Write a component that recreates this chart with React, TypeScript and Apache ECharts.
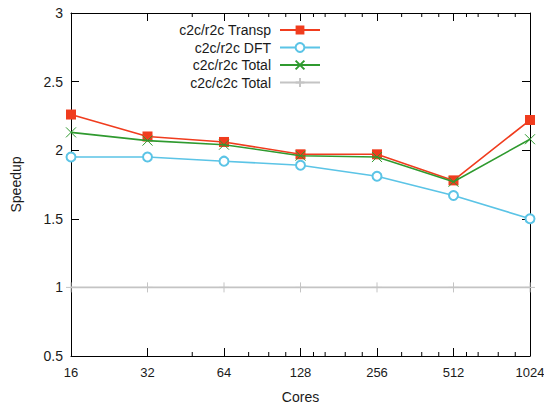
import React, { useEffect, useRef } from "react";
import * as echarts from "echarts";

const cores = [16, 32, 64, 128, 256, 512, 1024];
const transp = [2.26, 2.1, 2.06, 1.97, 1.97, 1.78, 2.22];
const dft = [1.95, 1.95, 1.92, 1.89, 1.81, 1.67, 1.5];
const r2cTotal = [2.13, 2.07, 2.04, 1.96, 1.95, 1.77, 2.08];
const c2cTotal = [1, 1, 1, 1, 1, 1, 1];
const minorTicks = [48, 80, 96, 112, 144, 160, 192, 224, 320, 384, 448, 576, 640, 768, 896];
const seriesNames = ["c2c/r2c Transp", "c2c/r2c DFT", "c2c/r2c Total", "c2c/c2c Total"];

const FONT = "'Liberation Sans', Arial, sans-serif";
const TXT = "#1a1a1a";
const FS = 14;

export default function App() {
  const ref = useRef<HTMLDivElement>(null);
  useEffect(() => {
    if (!ref.current) return;
    document.body.style.margin = "0";
    const chart = echarts.init(ref.current, null, { renderer: "svg" });
    const pairs = (ys: number[]) => cores.map((c, i) => [c, ys[i]]);
    const axisLine = { show: true, onZero: false, lineStyle: { color: "#000", width: 1 } };
    const xCommon = {
      type: "log" as const,
      logBase: 2,
      min: 16,
      max: 1024,
      interval: 1,
      axisLine,
      axisTick: { show: true, inside: true, length: 8, lineStyle: { color: "#000" } },
      splitLine: { show: false },
    };
    const yCommon = {
      type: "value" as const,
      min: 0.5,
      max: 3,
      interval: 0.5,
      axisLine,
      axisTick: { show: true, inside: true, length: 8, lineStyle: { color: "#000" } },
      splitLine: { show: false },
    };
    const option: any = {
      animation: false,
      backgroundColor: "#fff",
      textStyle: { fontFamily: FONT },
      grid: {
        left: 71,
        right: 14,
        top: 13,
        bottom: 49,
        containLabel: false,
        outerBoundsMode: "none",
      },
      legend: {
        data: seriesNames,
        orient: "vertical",
        align: "right",
        right: 223,
        top: 23,
        padding: 0,
        itemWidth: 40,
        itemHeight: 11,
        itemGap: 3.5,
        textStyle: {
          fontSize: FS,
          color: TXT,
          fontFamily: FONT,
          lineHeight: 13,
          padding: [0, 4, 0, 0],
        },
        selectedMode: false,
      },
      xAxis: [
        {
          ...xCommon,
          position: "bottom",
          name: "Cores",
          nameLocation: "middle",
          nameGap: 34,
          nameTextStyle: { fontSize: FS, color: TXT, fontFamily: FONT },
          axisLabel: {
            show: true,
            margin: 10,
            fontSize: 13,
            color: TXT,
            fontFamily: FONT,
            formatter: (v: number) => String(Math.round(v)),
          },
        },
        { ...xCommon, position: "top", axisLabel: { show: false } },
      ],
      yAxis: [
        {
          ...yCommon,
          position: "left",
          name: "Speedup",
          nameLocation: "middle",
          nameGap: 48,
          nameTextStyle: { fontSize: FS, color: TXT, fontFamily: FONT },
          axisLabel: { show: true, margin: 8, fontSize: FS, color: TXT, fontFamily: FONT },
        },
        { ...yCommon, position: "right", axisLabel: { show: false } },
      ],
      series: [
        {
          name: seriesNames[0],
          type: "line",
          data: pairs(transp),
          symbol: "rect",
          symbolSize: 10,
          lineStyle: { color: "#f03c1e", width: 1.6 },
          itemStyle: { color: "#f03c1e" },
          z: 3,
        },
        {
          name: seriesNames[1],
          type: "line",
          data: pairs(dft),
          symbol: "emptyCircle",
          symbolSize: 9,
          lineStyle: { color: "#5bc4e6", width: 1.6 },
          itemStyle: { color: "#5bc4e6", borderColor: "#5bc4e6", borderWidth: 1 },
          z: 4,
        },
        {
          name: seriesNames[2],
          type: "line",
          data: pairs(r2cTotal),
          symbol: "path://M0,0L10,10M10,0L0,10",
          symbolSize: 10,
          lineStyle: { color: "#2f9a2f", width: 1.6 },
          itemStyle: { color: "#2f9a2f", borderColor: "#2f9a2f", borderWidth: 1 },
          z: 5,
        },
        {
          name: seriesNames[3],
          type: "line",
          data: pairs(c2cTotal),
          symbol: "path://M5,0L5,10M0,5L10,5",
          symbolSize: 10,
          lineStyle: { color: "#c4c4c4", width: 1.6 },
          itemStyle: { color: "#c4c4c4", borderColor: "#c4c4c4", borderWidth: 1 },
          z: 6,
        },
        {
          name: "minor ticks",
          type: "custom",
          silent: true,
          data: minorTicks.map((v) => [v, 1]),
          renderItem: (params: any, api: any) => {
            const x = api.coord([api.value(0), 1])[0];
            const cs = params.coordSys;
            const yb = cs.y + cs.height;
            const yt = cs.y;
            const st = { stroke: "#000", lineWidth: 1 };
            return {
              type: "group",
              children: [
                { type: "line", shape: { x1: x, y1: yb, x2: x, y2: yb - 4 }, style: st },
                { type: "line", shape: { x1: x, y1: yt, x2: x, y2: yt + 4 }, style: st },
              ],
            };
          },
          z: 2,
        },
      ],
    };
    chart.setOption(option);
    return () => chart.dispose();
  }, []);
  return (
    <div
      ref={ref}
      style={{ position: "fixed", left: 0, top: 0, width: 544, height: 405, background: "#fff" }}
    />
  );
}
